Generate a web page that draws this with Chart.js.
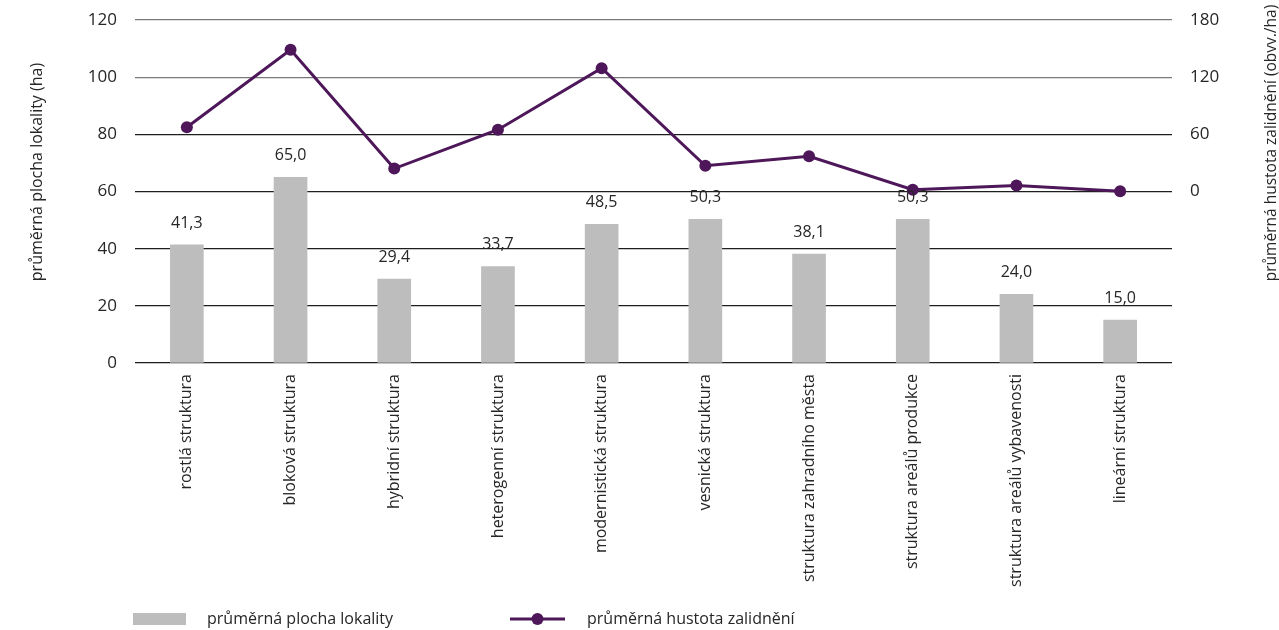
<!DOCTYPE html>
<html>
<head>
<meta charset="utf-8">
<script src="https://cdn.jsdelivr.net/npm/chart.js@4.4.0/dist/chart.umd.min.js"></script>
<style>
html,body{margin:0;padding:0;background:#fff;}
#wrap{position:relative;width:1279px;height:630px;}
</style>
</head>
<body>
<div id="wrap"><canvas id="c" width="1279" height="630"></canvas></div>
<script>
const categories = [
  "rostlá struktura",
  "bloková struktura",
  "hybridní struktura",
  "heterogenní struktura",
  "modernistická struktura",
  "vesnická struktura",
  "struktura zahradního města",
  "struktura areálů produkce",
  "struktura areálů vybavenosti",
  "lineární struktura"
];
const plochaLokality = [41.3, 65.0, 29.4, 33.7, 48.5, 50.3, 38.1, 50.3, 24.0, 15.0];
const hustotaZalidneni = [67.5, 148.7, 24.1, 64.8, 129.4, 27.0, 37.0, 1.8, 6.3, 0.3];
const leftAxisTitle = "průměrná plocha lokality (ha)";
const rightAxisTitle = "průměrná hustota zalidnění (obvv./ha)";
const seriesNames = ["průměrná plocha lokality", "průměrná hustota zalidnění"];

const FONT = "'Open Sans', 'DejaVu Sans', sans-serif";
const TEXT = "#262626";
const BAR = "#bdbdbd";
const LINE = "#4d1759";

const fmt = v => v.toFixed(1).replace('.', ',');

const extras = {
  id: 'extras',
  afterDatasetsDraw(chart) {
    const ctx = chart.ctx;
    const meta = chart.getDatasetMeta(0);
    ctx.save();
    ctx.font = "16px " + FONT;
    ctx.fillStyle = TEXT;
    ctx.textAlign = 'center';
    ctx.textBaseline = 'middle';
    meta.data.forEach((bar, i) => {
      ctx.fillText(fmt(plochaLokality[i]), bar.x, bar.y - 22);
    });
    ctx.restore();
  },
  afterDraw(chart) {
    const ctx = chart.ctx;
    ctx.save();
    ctx.fillStyle = TEXT;
    ctx.textAlign = 'center';
    ctx.textBaseline = 'middle';
    ctx.font = "16px " + FONT;
    ctx.save();
    ctx.translate(37, 172);
    ctx.rotate(-Math.PI / 2);
    ctx.fillText(leftAxisTitle, 0, 0);
    ctx.restore();
    ctx.font = "15.5px " + FONT;
    ctx.save();
    ctx.translate(1272, 143);
    ctx.rotate(-Math.PI / 2);
    ctx.fillText(rightAxisTitle, 0, 0);
    ctx.restore();
    // legend
    const ly = 619;
    ctx.fillStyle = BAR;
    ctx.fillRect(133, ly - 6, 53, 12);
    ctx.font = "16px " + FONT;
    ctx.fillStyle = TEXT;
    ctx.textAlign = 'left';
    ctx.fillText(seriesNames[0], 207, ly);
    ctx.strokeStyle = LINE;
    ctx.lineWidth = 3;
    ctx.beginPath();
    ctx.moveTo(510, ly);
    ctx.lineTo(565, ly);
    ctx.stroke();
    ctx.fillStyle = LINE;
    ctx.beginPath();
    ctx.arc(537.5, ly, 6, 0, Math.PI * 2);
    ctx.fill();
    ctx.fillStyle = TEXT;
    ctx.fillText(seriesNames[1], 587, ly);
    ctx.restore();
  }
};

function fixY(width) {
  return function (scale) {
    scale.width = width;
    scale.paddingTop = 0;
    scale.paddingBottom = 0;
  };
}

new Chart(document.getElementById('c'), {
  data: {
    labels: categories,
    datasets: [
      {
        type: 'bar',
        label: seriesNames[0],
        data: plochaLokality,
        backgroundColor: BAR,
        barThickness: 33,
        yAxisID: 'y',
        order: 2
      },
      {
        type: 'line',
        label: seriesNames[1],
        data: hustotaZalidneni,
        borderColor: LINE,
        backgroundColor: LINE,
        borderWidth: 3,
        pointRadius: 6,
        pointHoverRadius: 6,
        pointBackgroundColor: LINE,
        pointBorderWidth: 0,
        tension: 0,
        yAxisID: 'y1',
        order: 1
      }
    ]
  },
  options: {
    responsive: false,
    animation: false,
    devicePixelRatio: 1,
    layout: { padding: { top: 20, bottom: 0, left: 0, right: 0 } },
    plugins: { legend: { display: false }, tooltip: { enabled: false } },
    scales: {
      x: {
        offset: true,
        grid: { display: false, drawTicks: false },
        border: { display: false },
        ticks: {
          maxRotation: 90, minRotation: 90, autoSkip: false,
          padding: 11,
          font: { size: 16, family: FONT },
          color: TEXT
        },
        afterFit(scale) { scale.height = 267; }
      },
      y: {
        position: 'left',
        min: 0, max: 120,
        ticks: { stepSize: 20, padding: 18, font: { size: 17, family: FONT }, color: TEXT },
        grid: {
          drawTicks: false,
          lineWidth: 1.2,
          color: c => (c.tick && c.tick.value >= 100) ? '#7a7a7a' : '#1e1e1e'
        },
        border: { display: false },
        afterFit: fixY(135)
      },
      y1: {
        position: 'right',
        min: -180, max: 180,
        ticks: {
          stepSize: 60, padding: 18,
          font: { size: 17, family: FONT }, color: TEXT,
          callback: v => v >= 0 ? String(v) : ''
        },
        grid: { display: false, drawTicks: false },
        border: { display: false },
        afterFit: fixY(107)
      }
    }
  },
  plugins: [extras]
});
</script>
</body>
</html>
